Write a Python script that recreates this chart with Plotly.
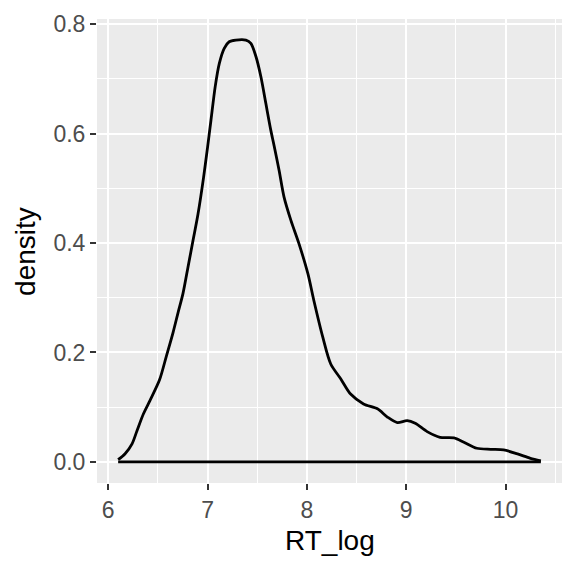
import plotly.graph_objects as go

# density curve (RT_log vs density)
rt_log = [6.10, 6.17, 6.24, 6.29, 6.355, 6.42, 6.517, 6.585, 6.652, 6.702, 6.753, 6.803,
          6.854, 6.904, 6.96, 7.00, 7.034, 7.077, 7.118, 7.168, 7.218, 7.285, 7.386, 7.436,
          7.487, 7.537, 7.587, 7.637, 7.67, 7.72, 7.77, 7.84, 7.92, 8.01, 8.07, 8.16, 8.24,
          8.34, 8.44, 8.57, 8.71, 8.81, 8.91, 9.01, 9.09, 9.21, 9.34, 9.48, 9.58,
          9.71, 9.85, 9.98, 10.12, 10.25, 10.355]
density = [0.004, 0.015, 0.033, 0.057, 0.088, 0.112, 0.150, 0.193, 0.236, 0.272, 0.308, 0.356,
           0.405, 0.453, 0.520, 0.575, 0.624, 0.686, 0.728, 0.756, 0.768, 0.771, 0.771, 0.765,
           0.741, 0.704, 0.655, 0.606, 0.578, 0.533, 0.484, 0.441, 0.399, 0.344, 0.295, 0.228, 0.179,
           0.152, 0.124, 0.106, 0.097, 0.082, 0.072, 0.0755, 0.0706, 0.0554, 0.045, 0.0439, 0.036,
           0.025, 0.023, 0.022, 0.0146, 0.0066, 0.002]

x_ticks = [6, 7, 8, 9, 10]
y_ticks = [0.0, 0.2, 0.4, 0.6, 0.8]
y_labels = ["0.0", "0.2", "0.4", "0.6", "0.8"]

# ggplot style 5% expansion
x_span = max(rt_log) - min(rt_log)
x_range = [min(rt_log) - 0.05 * x_span, max(rt_log) + 0.05 * x_span]
y_top = max(density)
y_range = [-0.05 * y_top, 1.05 * y_top]

fig = go.Figure()
fig.add_trace(go.Scatter(x=rt_log, y=density, mode="lines",
                         line=dict(color="black", width=2.8, shape="spline", smoothing=0.8),
                         hoverinfo="skip"))
# baseline of the density polygon
fig.add_trace(go.Scatter(x=[rt_log[0], rt_log[-1]], y=[0, 0], mode="lines",
                         line=dict(color="black", width=2.8), hoverinfo="skip"))

axis_common = dict(
    ticks="outside", ticklen=6, tickwidth=2.2, tickcolor="#333333",
    showgrid=True, gridcolor="white", gridwidth=2.2,
    zeroline=False, showline=False, automargin=False,
    tickfont=dict(size=23, color="#4D4D4D"),
)

fig.update_xaxes(range=x_range, tickvals=x_ticks, **axis_common,
                 minor=dict(dtick=0.5, tick0=5.5, showgrid=True, gridcolor="white", gridwidth=1.1))
fig.update_yaxes(range=y_range, tickvals=y_ticks, ticktext=y_labels, **axis_common,
                 minor=dict(dtick=0.1, tick0=0.1, showgrid=True, gridcolor="white", gridwidth=1.1))

# axis titles
fig.add_annotation(text="RT_log", xref="paper", yref="paper", x=0.5, y=-0.1236,
                   xanchor="center", yanchor="middle", showarrow=False,
                   font=dict(size=28, color="black"))
fig.add_annotation(text="density", xref="paper", yref="paper", x=-0.155, y=0.5,
                   xanchor="center", yanchor="middle", showarrow=False, textangle=-90,
                   font=dict(size=28, color="black"))

# page body adds an 8px offset, so the figure is drawn 8px smaller
fig.update_layout(
    width=568, height=568,
    margin=dict(l=89, r=14.3, t=11, b=93.3),
    plot_bgcolor="#EBEBEB", paper_bgcolor="white",
    showlegend=False,
    font=dict(family="Liberation Sans, Arial, sans-serif"),
)

fig.write_html("out.html")
